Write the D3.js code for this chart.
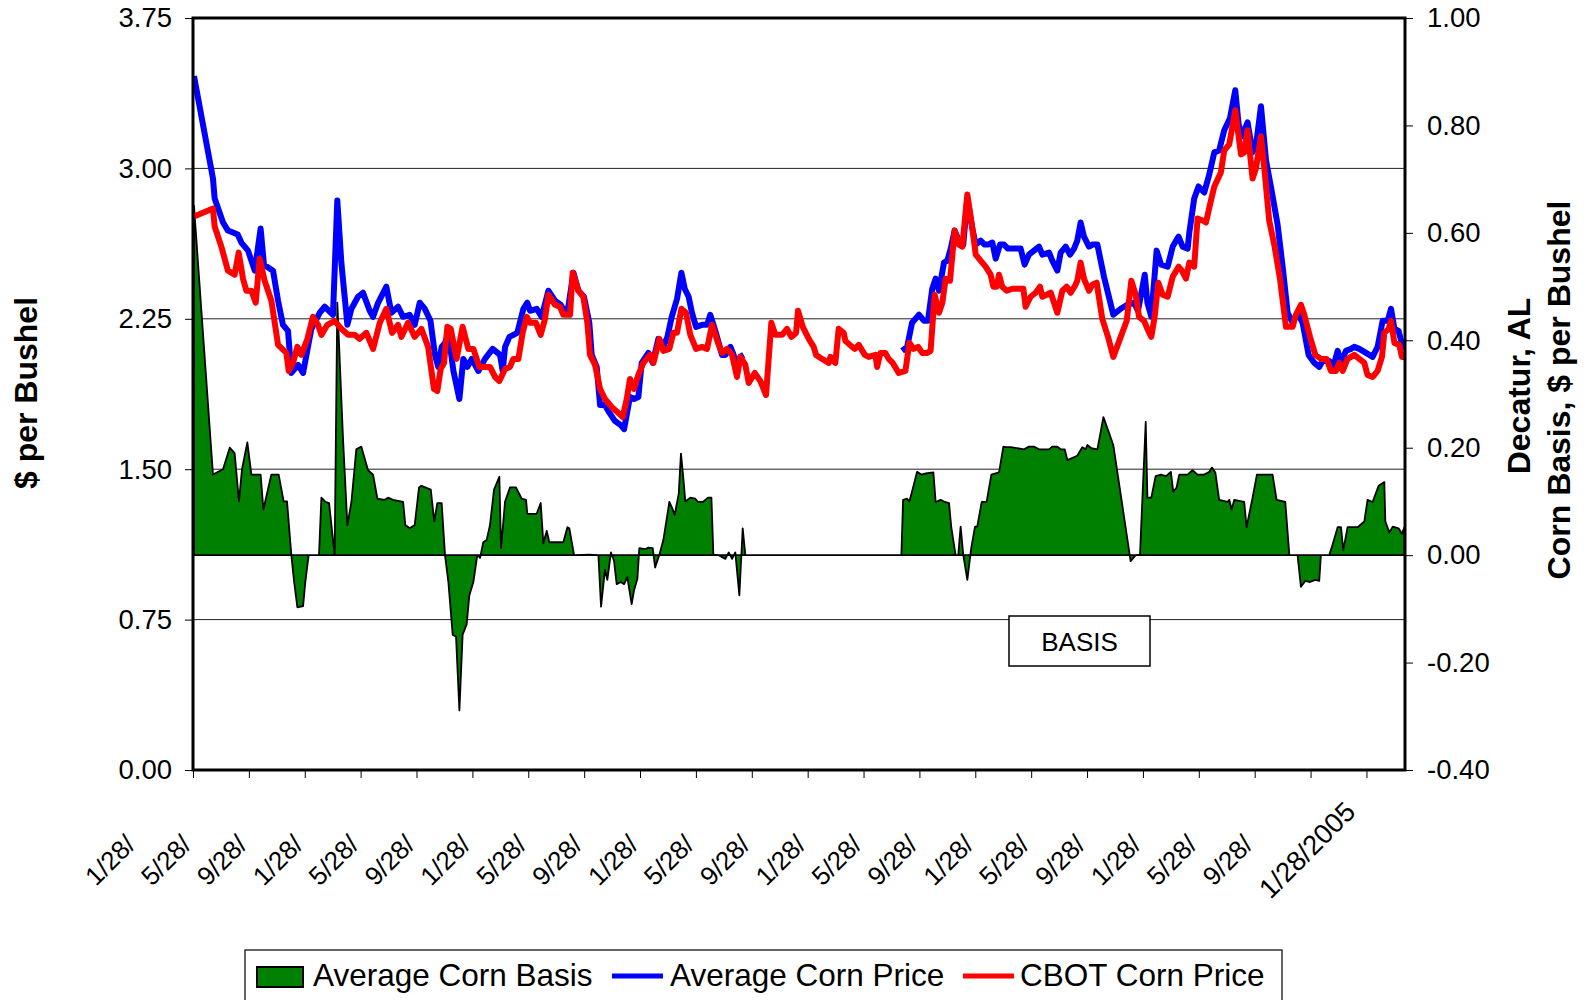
<!DOCTYPE html>
<html><head><meta charset="utf-8">
<script src="https://cdn.jsdelivr.net/npm/d3@7/dist/d3.min.js"></script>
<style>
body{margin:0;background:#fff}
svg{display:block}
text{font-family:Arial,"Liberation Sans",sans-serif;fill:#000}
</style>
</head><body>
<svg id="chart" width="1592" height="1000"></svg>
<script>
// x values: months elapsed since 1/28/1998 (date axis, major unit = 4 months)
const tickMonths = [0,4,8,12,16,20,24,28,32,36,40,44,48,52,56,60,64,68,72,76,80,84];
const tickLabels = ["1/28/","5/28/","9/28/","1/28/","5/28/","9/28/","1/28/","5/28/","9/28/","1/28/","5/28/","9/28/","1/28/","5/28/","9/28/","1/28/","5/28/","9/28/","1/28/","5/28/","9/28/","1/28/2005"];
const endMonth = 86.76;
const leftTicks = [0,0.75,1.5,2.25,3.0,3.75];
const rightTicks = [-0.4,-0.2,0,0.2,0.4,0.6,0.8,1.0];
const seriesNames = ["Average Corn Basis","Average Corn Price","CBOT Corn Price"];

// Average Corn Price ($/bu), null = no data
const avgPrice = [[0.07,3.46],[1.43,2.95],[1.55,2.85],[2.15,2.73],[2.5,2.69],[2.86,2.68],[3.2,2.67],[3.46,2.63],[3.94,2.59],[4.42,2.49],[4.84,2.70],[5.08,2.52],[5.73,2.49],[6.09,2.34],[6.44,2.22],[6.8,2.19],[7.04,1.98],[7.52,2.02],[7.88,1.98],[8.47,2.20],[9.07,2.28],[9.43,2.31],[10.02,2.27],[10.33,2.84],[10.62,2.53],[11.05,2.22],[11.34,2.30],[11.81,2.36],[12.17,2.38],[12.65,2.29],[12.89,2.26],[13.25,2.33],[13.84,2.41],[14.2,2.28],[14.68,2.31],[15.04,2.26],[15.51,2.27],[15.87,2.22],[16.23,2.33],[16.59,2.30],[17.0,2.24],[17.32,2.07],[17.56,2.01],[17.8,2.11],[18.04,2.13],[18.28,2.18],[18.64,1.99],[19.07,1.85],[19.35,2.05],[19.64,2.01],[19.95,2.05],[20.43,1.99],[20.9,2.05],[21.45,2.10],[21.98,2.07],[22.17,1.99],[22.34,2.11],[22.65,2.16],[23.22,2.18],[23.65,2.30],[23.93,2.33],[24.13,2.29],[24.6,2.30],[24.96,2.26],[25.44,2.39],[25.91,2.34],[26.32,2.32],[26.63,2.28],[26.87,2.31],[27.23,2.48],[27.59,2.39],[27.99,2.36],[28.37,2.23],[28.54,2.07],[28.9,2.01],[29.14,1.82],[29.49,1.82],[29.73,1.79],[30.21,1.74],[30.62,1.72],[30.86,1.70],[31.28,1.86],[31.57,1.85],[31.88,1.86],[32.12,2.03],[32.6,2.08],[32.91,2.03],[33.31,2.15],[33.67,2.11],[33.96,2.16],[34.27,2.26],[34.65,2.35],[34.96,2.48],[35.2,2.40],[35.48,2.36],[35.72,2.28],[36.01,2.21],[36.44,2.22],[36.8,2.22],[37.03,2.27],[37.39,2.19],[37.87,2.07],[38.11,2.07],[38.47,2.11],[38.7,2.07],[38.94,1.99],[39.18,2.06],[39.42,2.07],[40.0,null],[50.76,2.09],[51.12,2.11],[51.47,2.23],[51.97,2.27],[52.33,2.24],[52.61,2.24],[52.92,2.40],[53.16,2.45],[53.4,2.39],[53.76,2.53],[54.0,2.54],[54.24,2.60],[54.52,2.69],[54.83,2.64],[55.14,2.62],[55.43,2.85],[55.79,2.70],[56.03,2.62],[56.38,2.64],[56.67,2.62],[56.91,2.62],[57.22,2.63],[57.46,2.55],[57.77,2.62],[58.05,2.62],[58.34,2.60],[58.77,2.60],[59.25,2.60],[59.53,2.52],[59.84,2.57],[60.2,2.59],[60.56,2.61],[60.8,2.57],[61.28,2.58],[61.51,2.54],[61.87,2.49],[62.11,2.58],[62.47,2.61],[62.78,2.57],[63.07,2.60],[63.3,2.64],[63.54,2.73],[63.78,2.66],[64.14,2.61],[64.38,2.62],[64.74,2.62],[65.21,2.46],[65.88,2.27],[66.41,2.30],[66.88,2.32],[67.36,2.33],[67.65,2.29],[68.13,2.47],[68.32,2.33],[68.6,2.26],[68.98,2.59],[69.3,2.52],[69.77,2.51],[70.13,2.61],[70.55,2.66],[70.84,2.61],[71.2,2.60],[71.32,2.68],[71.67,2.85],[71.98,2.91],[72.39,2.88],[72.75,2.97],[73.11,3.08],[73.46,3.09],[73.82,3.19],[74.23,3.25],[74.61,3.39],[74.85,3.22],[75.09,3.16],[75.49,3.23],[75.85,3.08],[76.14,3.14],[76.45,3.31],[76.81,3.04],[77.16,2.91],[77.64,2.72],[78.0,2.51],[78.36,2.28],[78.72,2.23],[79.07,2.28],[79.43,2.23],[79.86,2.07],[80.27,2.03],[80.62,2.01],[80.86,2.04],[81.34,2.04],[81.58,2.00],[81.94,2.09],[82.18,2.03],[82.53,2.09],[82.89,2.10],[83.13,2.11],[83.49,2.10],[83.97,2.08],[84.44,2.06],[84.8,2.11],[85.16,2.24],[85.52,2.24],[85.76,2.30],[86.0,2.20],[86.3,2.19],[86.59,2.11],[86.72,2.10]];

// CBOT Corn Price ($/bu)
const cbotPrice = [[0.07,2.76],[1.43,2.80],[1.55,2.71],[2.03,2.61],[2.5,2.49],[2.98,2.47],[3.27,2.58],[3.58,2.45],[3.82,2.39],[4.18,2.39],[4.49,2.33],[4.77,2.55],[5.13,2.44],[5.61,2.34],[6.09,2.12],[6.68,2.08],[6.85,1.99],[7.16,2.03],[7.47,2.11],[7.76,2.07],[8.19,2.15],[8.59,2.26],[8.95,2.22],[9.19,2.17],[9.62,2.22],[10.14,2.24],[10.62,2.20],[11.1,2.17],[11.58,2.17],[11.93,2.15],[12.41,2.18],[12.89,2.10],[13.37,2.23],[13.84,2.30],[14.25,2.18],[14.68,2.22],[14.92,2.16],[15.39,2.23],[15.87,2.16],[16.35,2.20],[16.83,2.11],[17.25,1.90],[17.49,1.89],[17.73,2.00],[17.97,2.03],[18.21,2.21],[18.45,2.20],[18.87,2.05],[19.3,2.21],[19.71,2.10],[20.07,2.10],[20.5,2.01],[21.26,2.01],[21.62,1.96],[21.93,1.94],[22.34,2.00],[22.69,2.01],[22.93,2.05],[23.29,2.05],[23.6,2.18],[23.89,2.26],[24.13,2.23],[24.55,2.23],[24.89,2.17],[25.2,2.25],[25.44,2.37],[25.91,2.32],[26.27,2.31],[26.51,2.27],[26.99,2.27],[27.18,2.48],[27.59,2.39],[27.94,2.36],[28.23,2.23],[28.42,2.07],[28.78,2.02],[29.14,1.90],[29.49,1.85],[29.97,1.81],[30.45,1.78],[30.76,1.76],[31.05,1.85],[31.28,1.95],[31.57,1.90],[31.88,1.97],[32.24,2.03],[32.72,2.07],[32.96,2.03],[33.39,2.15],[33.67,2.09],[34.1,2.10],[34.39,2.18],[34.65,2.18],[34.96,2.30],[35.29,2.28],[35.6,2.17],[36.01,2.10],[36.44,2.11],[36.8,2.10],[37.15,2.22],[37.58,2.13],[37.87,2.08],[38.23,2.10],[38.59,2.07],[38.94,1.96],[39.18,2.06],[39.54,2.02],[39.78,1.93],[40.21,1.98],[40.61,1.94],[41.02,1.87],[41.4,2.23],[41.69,2.17],[42.17,2.17],[42.52,2.20],[42.83,2.16],[43.17,2.18],[43.31,2.29],[43.65,2.21],[44.08,2.15],[44.43,2.11],[44.6,2.07],[45.03,2.05],[45.51,2.03],[45.63,2.06],[45.98,2.03],[46.22,2.20],[46.58,2.18],[46.7,2.14],[47.18,2.11],[47.37,2.10],[47.66,2.12],[48.09,2.07],[48.37,2.06],[48.85,2.07],[48.97,2.01],[49.21,2.08],[49.56,2.08],[49.8,2.05],[50.09,2.03],[50.52,1.98],[51.0,1.99],[51.28,2.13],[51.59,2.10],[51.9,2.11],[52.21,2.08],[52.56,2.08],[52.8,2.09],[53.09,2.37],[53.4,2.28],[53.64,2.33],[53.88,2.45],[54.19,2.44],[54.52,2.69],[54.83,2.62],[55.07,2.61],[55.43,2.87],[55.79,2.70],[56.03,2.57],[56.38,2.54],[56.74,2.51],[57.1,2.47],[57.29,2.41],[57.53,2.41],[57.7,2.47],[57.93,2.41],[58.25,2.39],[58.65,2.40],[59.44,2.40],[59.6,2.31],[59.96,2.36],[60.32,2.38],[60.63,2.41],[60.8,2.36],[61.11,2.37],[61.4,2.38],[61.59,2.34],[61.87,2.28],[62.23,2.39],[62.54,2.41],[62.83,2.38],[63.18,2.42],[63.3,2.44],[63.54,2.53],[63.78,2.45],[64.14,2.39],[64.38,2.42],[64.69,2.43],[65.09,2.25],[65.5,2.16],[65.88,2.06],[66.41,2.16],[66.84,2.24],[67.17,2.44],[67.48,2.37],[67.72,2.26],[68.08,2.24],[68.32,2.20],[68.6,2.16],[68.84,2.26],[69.1,2.43],[69.41,2.37],[69.77,2.36],[70.13,2.46],[70.55,2.51],[70.79,2.49],[71.08,2.45],[71.32,2.53],[71.67,2.51],[71.91,2.75],[72.27,2.74],[72.51,2.73],[72.87,2.84],[73.11,2.91],[73.58,2.98],[73.82,3.09],[74.18,3.12],[74.61,3.29],[75.02,3.07],[75.25,3.08],[75.49,3.19],[75.85,2.95],[76.09,3.00],[76.45,3.16],[76.69,3.00],[77.04,2.74],[77.4,2.62],[77.81,2.45],[78.24,2.21],[78.72,2.21],[78.95,2.27],[79.31,2.32],[79.55,2.27],[79.96,2.16],[80.34,2.07],[80.74,2.05],[81.15,2.05],[81.46,1.99],[81.82,1.99],[82.06,2.03],[82.3,1.99],[82.65,2.05],[83.13,2.07],[83.49,2.05],[83.85,2.03],[84.08,1.97],[84.44,1.96],[84.8,1.99],[85.11,2.06],[85.28,2.18],[85.59,2.20],[85.76,2.24],[86.0,2.13],[86.35,2.12],[86.54,2.06],[86.72,2.06]];

// Average Corn Basis, Decatur AL ($/bu)
const basis = [[0.07,0.65],[1.43,0.15],[2.15,0.16],[2.63,0.20],[2.98,0.19],[3.29,0.10],[3.51,0.16],[3.89,0.21],[4.18,0.15],[4.84,0.15],[5.04,0.085],[5.61,0.15],[6.13,0.15],[6.49,0.10],[6.73,0.10],[7.04,0],[7.24,-0.05],[7.47,-0.097],[7.88,-0.095],[8.04,-0.05],[8.28,0],[9.02,0],[9.19,0.107],[9.48,0.099],[9.74,0.097],[10.14,0],[10.33,0.47],[10.74,0.216],[11.05,0.056],[11.34,0.099],[11.69,0.197],[12.05,0.202],[12.53,0.158],[12.89,0.15],[13.2,0.105],[13.72,0.103],[13.96,0.107],[14.32,0.103],[15.04,0.099],[15.2,0.056],[15.51,0.05],[15.87,0.056],[16.18,0.126],[16.35,0.129],[17.02,0.122],[17.27,0.063],[17.49,0.097],[17.8,0.097],[18.04,0],[18.28,-0.05],[18.59,-0.148],[18.83,-0.152],[19.07,-0.289],[19.3,-0.148],[19.59,-0.129],[19.78,-0.075],[20.07,-0.05],[20.35,0],[20.55,-0.005],[20.78,0.024],[21.02,0.028],[21.26,0.056],[21.55,0.122],[21.93,0.146],[22.05,0.013],[22.34,0.1],[22.69,0.126],[23.12,0.126],[23.53,0.105],[23.84,0.103],[23.93,0.077],[24.6,0.077],[24.89,0.097],[25.08,0.022],[25.32,0.045],[25.51,0.024],[26.51,0.024],[26.8,0.052],[26.94,0.05],[27.28,0],[28.37,0.001],[29.02,0],[29.21,-0.096],[29.49,-0.027],[29.66,-0.046],[29.92,0.005],[30.14,-0.011],[30.33,-0.054],[30.62,-0.05],[30.86,-0.054],[31.09,-0.041],[31.4,-0.091],[31.57,-0.066],[31.81,-0.044],[31.95,0.013],[32.36,0.011],[32.6,0.014],[32.91,0.013],[33.08,-0.023],[33.39,0.001],[33.67,0.028],[34.1,0.099],[34.34,0.085],[34.48,0.075],[34.77,0.114],[34.93,0.189],[35.12,0.138],[35.24,0.1],[35.6,0.107],[35.96,0.105],[36.15,0.099],[36.49,0.099],[36.87,0.107],[37.11,0.107],[37.25,0.001],[37.63,0],[38.11,-0.007],[38.35,0.005],[38.59,-0.007],[38.82,0.005],[39.11,-0.075],[39.35,0.05],[39.54,0],[50.71,0],[50.83,0.103],[51.12,0.105],[51.28,0.1],[51.47,0.118],[51.83,0.155],[52.14,0.15],[52.45,0.152],[53.0,0.154],[53.16,0.099],[53.52,0.103],[53.81,0.099],[54.12,0.097],[54.28,0.052],[54.59,0],[54.78,0],[54.95,0.053],[55.14,0],[55.43,-0.046],[55.71,0.013],[55.98,0.053],[56.14,0.053],[56.46,0.099],[56.81,0.099],[57.15,0.15],[57.7,0.154],[58.01,0.202],[58.17,0.201],[58.53,0.201],[59.49,0.197],[59.84,0.202],[60.2,0.202],[60.56,0.197],[61.28,0.197],[61.51,0.202],[61.87,0.202],[62.11,0.197],[62.4,0.197],[62.59,0.177],[63.3,0.185],[63.66,0.201],[63.9,0.197],[64.02,0.205],[64.31,0.199],[64.74,0.197],[65.17,0.257],[65.88,0.205],[67.12,-0.011],[67.48,0],[67.79,0.001],[68.2,0.248],[68.32,0.107],[68.6,0.107],[68.91,0.147],[69.29,0.15],[69.65,0.147],[70.0,0.155],[70.17,0.118],[70.41,0.126],[70.6,0.15],[71.2,0.15],[71.55,0.158],[71.91,0.15],[72.39,0.15],[72.75,0.155],[72.94,0.163],[73.18,0.154],[73.46,0.103],[74.06,0.099],[74.18,0.103],[74.35,0.085],[74.54,0.103],[75.25,0.099],[75.42,0.052],[75.85,0.107],[76.16,0.15],[77.28,0.15],[77.57,0.103],[78.19,0.099],[78.48,0],[79.07,0],[79.31,-0.059],[79.62,-0.048],[79.96,-0.05],[80.34,-0.046],[80.62,-0.048],[80.74,0],[81.34,0],[81.58,0.02],[81.94,0.052],[82.18,0.052],[82.34,0.009],[82.65,0.052],[83.37,0.052],[83.85,0.063],[84.08,0.103],[84.44,0.099],[84.87,0.129],[85.28,0.136],[85.35,0.063],[85.64,0.042],[85.88,0.053],[86.3,0.05],[86.54,0.04],[86.72,0.052]];

const svg = d3.select("#chart");
const L = 193, R = 1405, T = 18, B = 770;
const FONT = "Arial, 'Liberation Sans', sans-serif";
const x = d3.scaleLinear().domain([0, endMonth]).range([L, R]);
const yL = d3.scaleLinear().domain([0, 3.75]).range([B, T]);
const yR = d3.scaleLinear().domain([-0.4, 1.0]).range([B, T]);

svg.append("defs").append("clipPath").attr("id","plotclip")
  .append("rect").attr("x",L).attr("y",T).attr("width",R-L).attr("height",B-T);

// gridlines
svg.append("g").selectAll("line").data(leftTicks.filter(d => d > 0 && d < 3.75)).join("line")
  .attr("x1",L).attr("x2",R).attr("y1",d=>yL(d)).attr("y2",d=>yL(d))
  .attr("stroke","#222").attr("stroke-width",1);

const plot = svg.append("g").attr("clip-path","url(#plotclip)");

// basis area
const area = d3.area().x(d=>x(d[0])).y0(yR(0)).y1(d=>yR(d[1]));
plot.append("path").datum(basis).attr("d",area)
  .attr("fill","#008000").attr("stroke","#000").attr("stroke-width",1.8).attr("stroke-linejoin","round");

const line = d3.line().defined(d=>d[1]!==null).x(d=>x(d[0])).y(d=>yL(d[1]));
plot.append("path").datum(avgPrice).attr("d",line)
  .attr("fill","none").attr("stroke","#0000ff").attr("stroke-width",6).attr("stroke-linejoin","round");
plot.append("path").datum(cbotPrice).attr("d",line)
  .attr("fill","none").attr("stroke","#ff0000").attr("stroke-width",6).attr("stroke-linejoin","round");

// plot frame
svg.append("rect").attr("x",L).attr("y",T).attr("width",R-L).attr("height",B-T)
  .attr("fill","none").attr("stroke","#000").attr("stroke-width",3);

// left axis
const gL = svg.append("g").attr("transform",`translate(${L},0)`)
  .call(d3.axisLeft(yL).tickValues(leftTicks).tickFormat(d3.format(".2f")).tickSize(8).tickPadding(13));
gL.select(".domain").remove();
gL.selectAll("text").attr("font-size",27.5).style("font-family",FONT);
gL.selectAll("line").attr("stroke","#000");

// right axis
const gR = svg.append("g").attr("transform",`translate(${R},0)`)
  .call(d3.axisRight(yR).tickValues(rightTicks).tickFormat(d3.format(".2f")).tickSize(8).tickPadding(14));
gR.select(".domain").remove();
gR.selectAll("text").attr("font-size",27.5).style("font-family",FONT)
  .text(d => d3.format(".2f")(d).replace("\u2212","-"));
gR.selectAll("line").attr("stroke","#000");

// bottom axis
const gB = svg.append("g").attr("transform",`translate(0,${B})`)
  .call(d3.axisBottom(x).tickValues(tickMonths).tickFormat("").tickSize(8));
gB.select(".domain").remove();
gB.selectAll("line").attr("stroke","#000");

const last = tickMonths.length - 1;
svg.append("g").selectAll("text").data(tickMonths).join("text")
  .attr("transform", (d,i) => i === last
      ? `translate(${x(d)-96},900) rotate(-45)`
      : `translate(${x(d)-97},887) rotate(-45)`)
  .attr("font-size",(d,i) => i === last ? 27.5 : 26).attr("text-anchor","start")
  .text((d,i) => tickLabels[i]);

// axis titles
svg.append("text").attr("transform","translate(37,393) rotate(-90)")
  .attr("text-anchor","middle").attr("font-size",32).attr("font-weight","bold").text("$ per Bushel");
svg.append("text").attr("transform","translate(1530,386) rotate(-90)")
  .attr("text-anchor","middle").attr("font-size",32).attr("font-weight","bold").text("Decatur, AL");
svg.append("text").attr("transform","translate(1570,390) rotate(-90)")
  .attr("text-anchor","middle").attr("font-size",32).attr("font-weight","bold").text("Corn Basis, $ per Bushel");

// BASIS label
svg.append("rect").attr("x",1009).attr("y",616).attr("width",141).attr("height",50)
  .attr("fill","#fff").attr("stroke","#000").attr("stroke-width",1.5);
svg.append("text").attr("x",1079.5).attr("y",651).attr("text-anchor","middle").attr("font-size",26).text("BASIS");

// legend
const lg = svg.append("g");
lg.append("rect").attr("x",245).attr("y",950).attr("width",1037).attr("height",70)
  .attr("fill","#fff").attr("stroke","#000").attr("stroke-width",1.2);
lg.append("rect").attr("x",257).attr("y",967).attr("width",46).attr("height",20)
  .attr("fill","#008000").attr("stroke","#000").attr("stroke-width",2);
lg.append("text").attr("x",313).attr("y",986).attr("font-size",31.5).text(seriesNames[0]);
lg.append("line").attr("x1",612).attr("x2",663).attr("y1",976).attr("y2",976)
  .attr("stroke","#0000ff").attr("stroke-width",5);
lg.append("text").attr("x",670).attr("y",986).attr("font-size",31.5).text(seriesNames[1]);
lg.append("line").attr("x1",963).attr("x2",1014).attr("y1",976).attr("y2",976)
  .attr("stroke","#ff0000").attr("stroke-width",5);
lg.append("text").attr("x",1020).attr("y",986).attr("font-size",31.5).text(seriesNames[2]);
</script>
</body></html>
